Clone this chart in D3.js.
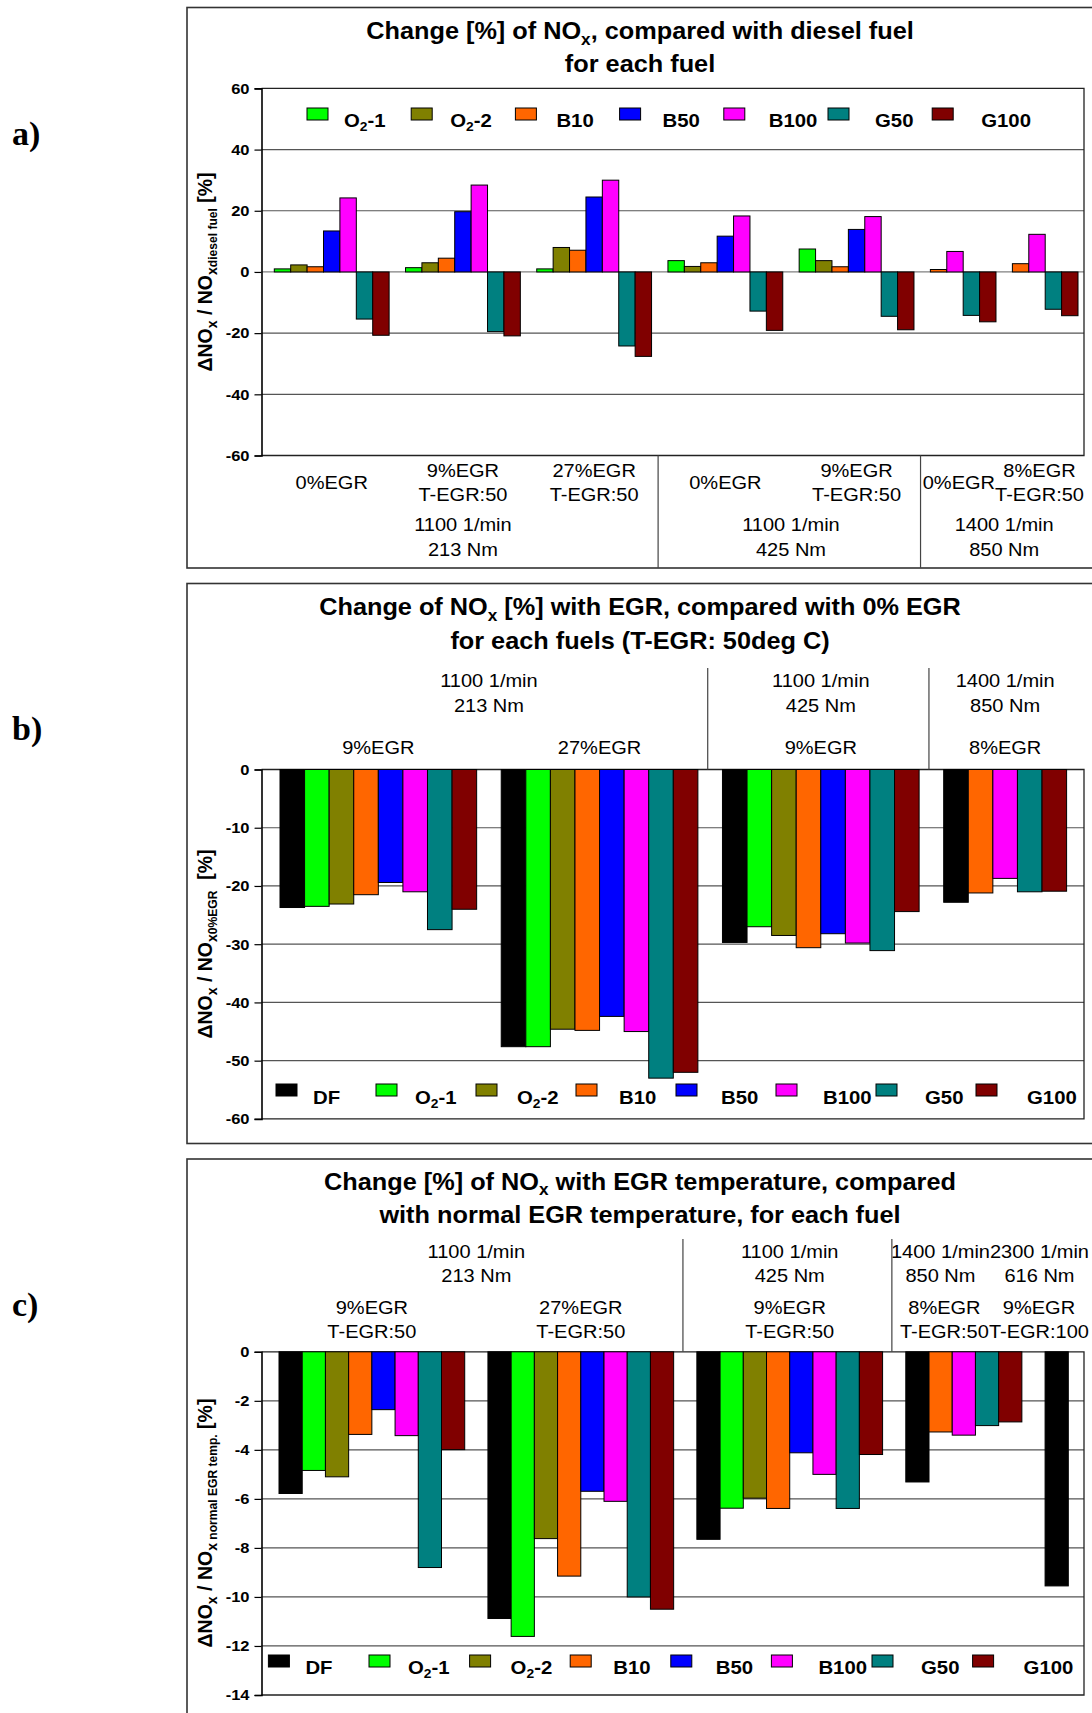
<!DOCTYPE html>
<html>
<head>
<meta charset="utf-8">
<script src="https://cdn.jsdelivr.net/npm/d3@7"></script>
<style>
  body { margin: 0; background: #fff; }
  text { font-family: "Liberation Sans", Arial, sans-serif; white-space: pre; fill: #000; }
</style>
</head>
<body>
<svg id="fig" width="1092" height="1713"></svg>
<script>
// ---------- data ----------
const fuels = ["DF", "O2-1", "O2-2", "B10", "B50", "B100", "G50", "G100"];
const fuelColors = ["#000000", "#00ff00", "#808000", "#ff6600", "#0000ff", "#ff00ff", "#008080", "#800000"];

// a) change vs. diesel fuel
const aGroupFuels = [
  ["O2-1", "O2-2", "B10", "B50", "B100", "G50", "G100"],
  ["O2-1", "O2-2", "B10", "B50", "B100", "G50", "G100"],
  ["O2-1", "O2-2", "B10", "B50", "B100", "G50", "G100"],
  ["O2-1", "O2-2", "B10", "B50", "B100", "G50", "G100"],
  ["O2-1", "O2-2", "B10", "B50", "B100", "G50", "G100"],
  ["B10", "B100", "G50", "G100"],
  ["B10", "B100", "G50", "G100"]
];
const aValues = [
  [1.0, 2.3, 1.7, 13.4, 24.2, -15.4, -20.7],
  [1.4, 3.0, 4.5, 19.7, 28.4, -19.5, -20.9],
  [1.0, 8.0, 7.1, 24.5, 30.0, -24.2, -27.6],
  [3.7, 1.8, 3.0, 11.7, 18.3, -12.8, -19.1],
  [7.5, 3.7, 1.7, 13.9, 18.1, -14.5, -18.9],
  [0.8, 6.7, -14.2, -16.3],
  [2.7, 12.3, -12.2, -14.3]
];
const aCategories = [["0%EGR"], ["9%EGR", "T-EGR:50"], ["27%EGR", "T-EGR:50"], ["0%EGR"], ["9%EGR", "T-EGR:50"], ["0%EGR"], ["8%EGR", "T-EGR:50"]];
const aPoints = [["1100 1/min", "213 Nm"], ["1100 1/min", "425 Nm"], ["1400 1/min", "850 Nm"]];
const aPointGroups = [[0, 2], [3, 4], [5, 6]];
const aDividers = [2, 4];
const aTicks = [60, 40, 20, 0, -20, -40, -60];
const aLegend = ["O2-1", "O2-2", "B10", "B50", "B100", "G50", "G100"];

// b) change with EGR vs. 0% EGR
const bGroupFuels = [fuels, fuels, fuels, ["DF", "B10", "B100", "G50", "G100"]];
const bValues = [
  [-23.7, -23.5, -23.1, -21.5, -19.4, -21.0, -27.5, -24.0],
  [-47.6, -47.6, -44.6, -44.8, -42.4, -45.0, -53.0, -52.0],
  [-29.7, -27.0, -28.5, -30.6, -28.2, -29.8, -31.1, -24.4],
  [-22.8, -21.2, -18.7, -21.0, -20.9]
];
const bCategories = [["9%EGR"], ["27%EGR"], ["9%EGR"], ["8%EGR"]];
const bPoints = [["1100 1/min", "213 Nm"], ["1100 1/min", "425 Nm"], ["1400 1/min", "850 Nm"]];
const bPointGroups = [[0, 1], [2, 2], [3, 3]];
const bDividers = [1, 2];
const bTicks = [0, -10, -20, -30, -40, -50, -60];

// c) change with EGR temperature vs. normal EGR temperature
const cGroupFuels = [fuels, fuels, fuels, ["DF", "B10", "B100", "G50", "G100"], ["DF"]];
const cValues = [
  [-5.78, -4.84, -5.10, -3.37, -2.36, -3.42, -8.80, -3.99],
  [-10.88, -11.61, -7.62, -9.15, -5.69, -6.10, -10.0, -10.5],
  [-7.65, -6.38, -5.97, -6.39, -4.12, -5.0, -6.39, -4.19],
  [-5.31, -3.27, -3.40, -3.01, -2.86],
  [-9.55]
];
const cCategories = [["9%EGR", "T-EGR:50"], ["27%EGR", "T-EGR:50"], ["9%EGR", "T-EGR:50"], ["8%EGR", "T-EGR:50"], ["9%EGR", "T-EGR:100"]];
const cPoints = [["1100 1/min", "213 Nm"], ["1100 1/min", "425 Nm"], ["1400 1/min", "850 Nm"], ["2300 1/min", "616 Nm"]];
const cPointGroups = [[0, 1], [2, 2], [3, 3], [4, 4]];
const cDividers = [1, 2];
const cTicks = [0, -2, -4, -6, -8, -10, -12, -14];

// ---------- drawing helpers ----------
const SX = 1.1;              // horizontal stretch of the lettering
const W = 1092;
const PLOT_L = 261.5, PLOT_R = 1084;
const svg = d3.select("#fig");
const colorOf = d3.scaleOrdinal().domain(fuels).range(fuelColors);

// text with "_{..}" (subscript) and "__{..}" (small subscript) markup
function rich(t, str, size, k1 = 0.68, k2 = 0.6) {
  const re = /(_{1,2})\{([^}]*)\}/g;
  let last = 0, cur = 0, m;
  const push = (s, lvl) => {
    if (!s) return;
    const fs = lvl === 0 ? size : size * (lvl === 1 ? k1 : k2);
    const off = lvl === 0 ? 0 : size * 0.24;
    const ts = t.append("tspan").text(s).style("font-size", fs + "px");
    if (off !== cur) { ts.attr("dy", off - cur); cur = off; }
  };
  while ((m = re.exec(str))) {
    push(str.slice(last, m.index), 0);
    push(m[2], m[1].length);
    last = re.lastIndex;
  }
  push(str.slice(last), 0);
  return t;
}
const fuelMarkup = f => f.replace(/^O2/, "O_{2}");

function stext(parent, x, y, anchor, size, weight) {
  return parent.append("text")
    .attr("transform", `translate(${x},${y}) scale(${SX},1)`)
    .attr("text-anchor", anchor)
    .style("font-size", size + "px")
    .style("font-weight", weight);
}

function layoutSlots(groupFuels, values) {
  const bars = [], groups = [];
  let idx = 0;
  groupFuels.forEach((fs, gi) => {
    const start = idx;
    fs.forEach((f, k) => { bars.push({ group: gi, fuel: f, value: values[gi][k], slot: idx }); idx++; });
    groups.push({ start, end: idx });
    idx++;                       // empty slot between clusters
  });
  return { bars, groups, n: idx - 1 };
}

// label blocks centred on their clusters, pushed left where they would run into the next block
function labelRow(g, blocks, centers, rowMid, lh, size, maxRight) {
  const items = blocks.map((lines, i) => {
    const bg = g.append("g");
    const top = rowMid - (lines.length - 1) * lh / 2;
    let w = 0;
    lines.forEach((s, j) => {
      const t = stext(bg, 0, top + j * lh + size * 0.36, "middle", size, "normal").text(s);
      w = Math.max(w, t.node().getComputedTextLength() * SX);
    });
    return { bg, w, cx: centers[i] };
  });
  let limit = maxRight;
  for (let i = items.length - 1; i >= 0; i--) {
    const it = items[i];
    if (it.cx + it.w / 2 > limit) it.cx = limit - it.w / 2;
    limit = it.cx - it.w / 2;
    it.bg.attr("transform", `translate(${it.cx},0)`);
  }
}

function panel(p) {
  const g = svg.append("g");

  // outer frame (runs past the right edge of the page)
  g.append("rect")
    .attr("x", 187).attr("y", p.frameTop)
    .attr("width", W + 20 - 187).attr("height", p.frameBottom - p.frameTop)
    .attr("fill", "none").attr("stroke", "#333").attr("stroke-width", 1.6);

  // panel letter
  g.append("text").attr("x", 12).attr("y", p.letterY)
    .style("font-family", "'Liberation Serif', 'Times New Roman', serif")
    .style("font-weight", "bold").style("font-size", "34px").text(p.letter);

  // title
  p.title.forEach((s, i) => rich(stext(g, 640, p.titleY[i], "middle", 23, "bold"), s, 23));

  const y = d3.scaleLinear().domain(p.yDomain).range([p.plotBottom, p.plotTop]);
  const L = layoutSlots(p.groupFuels, p.values);
  const x = d3.scaleLinear().domain([0, L.n]).range(p.xRange);

  // grid
  g.append("g").selectAll("line").data(p.grid).join("line")
    .attr("x1", PLOT_L).attr("x2", PLOT_R)
    .attr("y1", d => y(d)).attr("y2", d => y(d))
    .attr("stroke", d => d === 0 ? "#808080" : "#555").attr("stroke-width", 1.2);

  // plot border
  const [yTop, yBot] = [y(p.yDomain[1]), y(p.yDomain[0])];
  g.append("path")
    .attr("d", `M${PLOT_L},${yTop}H${PLOT_R}V${yBot}H${PLOT_L}`)
    .attr("fill", "none").attr("stroke", "#222").attr("stroke-width", 1.3);

  // bars
  g.append("g").selectAll("rect").data(L.bars).join("rect")
    .attr("x", d => x(d.slot))
    .attr("width", d => x(d.slot + 1) - x(d.slot))
    .attr("y", d => y(Math.max(0, d.value)))
    .attr("height", d => Math.abs(y(d.value) - y(0)))
    .attr("fill", d => colorOf(d.fuel))
    .attr("stroke", "#000").attr("stroke-width", 1);

  // y axis
  const ax = g.append("g").attr("transform", `translate(${PLOT_L},0)`)
    .call(d3.axisLeft(y).tickValues(p.ticks).tickSize(7).tickPadding(5).tickFormat(d => String(d)));
  ax.select(".domain").attr("stroke", "#000").attr("stroke-width", 1.6);
  ax.selectAll(".tick line").attr("stroke", "#000").attr("stroke-width", 1.2);
  ax.selectAll(".tick text")
    .attr("x", -12 / SX).attr("transform", `scale(${SX},1)`)
    .style("font-family", "'Liberation Sans', Arial, sans-serif")
    .style("font-size", "15px").style("font-weight", "bold").attr("fill", "#000");

  // y label
  rich(g.append("text")
    .attr("transform", `translate(212,${p.yLabelY}) rotate(-90)`)
    .attr("text-anchor", "middle")
    .style("font-weight", "bold"), p.yLabel, 19.5, 0.72, 0.62);

  // legend
  const lg = g.append("g").selectAll("g").data(p.legend).join("g")
    .attr("transform", (d, i) => `translate(${p.legendX + i * p.legendStep},0)`);
  lg.append("rect").attr("x", 0).attr("y", p.legendTop).attr("width", 21).attr("height", 12)
    .attr("fill", d => colorOf(d)).attr("stroke", "#000").attr("stroke-width", 1);
  lg.each(function (d, i) {
    rich(stext(d3.select(this), 37 + i * p.legendDrift, p.legendBase, "start", 18.5, "bold"), fuelMarkup(d), 18.5);
  });

  // cluster / operating-point labels
  const gc = L.groups.map(gr => (x(gr.start) + x(gr.end)) / 2);
  const pc = p.pointGroups.map(([a, b]) => (x(L.groups[a].start) + x(L.groups[b].end)) / 2);
  labelRow(g, p.categories, gc, p.catMid, p.catLh, 18.2, p.maxRight);
  labelRow(g, p.points, pc, p.pointMid, p.pointLh, 18.2, p.maxRight);

  // dividers between operating points
  g.append("g").selectAll("line").data(p.dividers).join("line")
    .attr("x1", d => x(L.groups[d].end + 0.4)).attr("x2", d => x(L.groups[d].end + 0.4))
    .attr("y1", p.divTop).attr("y2", p.divBottom)
    .attr("stroke", "#444").attr("stroke-width", 1.2);
}

// ---------- panels ----------
panel({
  letter: "a)", letterY: 145,
  frameTop: 7.5, frameBottom: 568,
  title: ["Change [%] of NO_{x}, compared with diesel fuel", "for each fuel"], titleY: [39, 72],
  yDomain: [-60, 60], plotTop: 88.4, plotBottom: 455.5, ticks: aTicks, grid: [40, 20, 0, -20, -40],
  groupFuels: aGroupFuels, values: aValues, xRange: [274.3, 1078],
  yLabel: "ΔNO_{x} / NO_{x}__{diesel fuel} [%]", yLabelY: 272,
  legend: aLegend, legendX: 307, legendStep: 104.2, legendTop: 108, legendBase: 126.5, legendDrift: 2,
  categories: aCategories, catMid: 482.6, catLh: 24,
  points: aPoints, pointGroups: aPointGroups, pointMid: 537, pointLh: 24.3,
  maxRight: 1084,
  dividers: aDividers, divTop: 455.5, divBottom: 568
});

panel({
  letter: "b)", letterY: 740,
  frameTop: 583.5, frameBottom: 1143.5,
  title: ["Change of NO_{x} [%] with EGR, compared with 0% EGR", "for each fuels (T-EGR: 50deg C)"], titleY: [615, 649],
  yDomain: [-60, 0], plotTop: 769.5, plotBottom: 1118.9, ticks: bTicks, grid: [-10, -20, -30, -40, -50],
  groupFuels: bGroupFuels, values: bValues, xRange: [280, 1066.6],
  yLabel: "ΔNO_{x} / NO_{x}__{0%EGR}  [%]", yLabelY: 944,
  legend: fuels, legendX: 276, legendStep: 100, legendTop: 1084, legendBase: 1103.5, legendDrift: 2,
  categories: bCategories, catMid: 747, catLh: 24,
  points: bPoints, pointGroups: bPointGroups, pointMid: 692.7, pointLh: 25.4,
  maxRight: 1089,
  dividers: bDividers, divTop: 668, divBottom: 769.5
});

panel({
  letter: "c)", letterY: 1316,
  frameTop: 1159, frameBottom: 1740,
  title: ["Change [%] of NO_{x} with EGR temperature, compared", "with normal EGR temperature, for each fuel"], titleY: [1189.5, 1223.4],
  yDomain: [-14, 0], plotTop: 1351.8, plotBottom: 1695, ticks: cTicks, grid: [-2, -4, -6, -8, -10, -12],
  groupFuels: cGroupFuels, values: cValues, xRange: [279, 1068.3],
  yLabel: "ΔNO_{x} / NO_{x}__{ normal EGR temp.} [%]", yLabelY: 1523,
  legend: fuels, legendX: 268.4, legendStep: 100.6, legendTop: 1655, legendBase: 1674, legendDrift: 2,
  categories: cCategories, catMid: 1319, catLh: 24,
  points: cPoints, pointGroups: cPointGroups, pointMid: 1263.5, pointLh: 24.1,
  maxRight: 1089,
  dividers: cDividers, divTop: 1239, divBottom: 1351.8
});
</script>
</body>
</html>
